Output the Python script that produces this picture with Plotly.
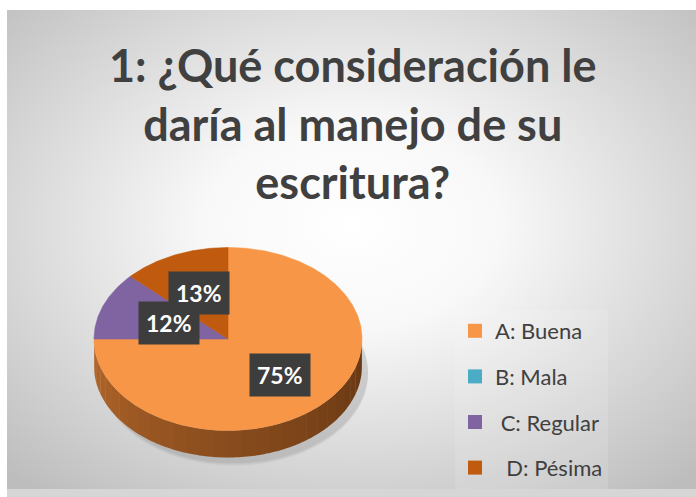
import base64
import numpy as np
import plotly.graph_objects as go

# ---------------- data ----------------
categories = ["A: Buena", "B: Mala", "C: Regular", "D: Pésima"]
legend_labels = ["A: Buena", "B: Mala", "\u00a0C: Regular", "\u00a0\u00a0D: Pésima"]
values = [75, 0, 12, 13]
slice_colors = ["#F79646", "#4BACC6", "#8064A2", "#BF5A0E"]
title_lines = ["1: ¿Qué consideración le", "daría al manejo de su", "escritura?"]

# ---------------- geometry (pixel axes) ----------------
W, H = 696, 497
CX, CY = 228, 339          # centre of top face
RX, RY = 134, 91.5         # ellipse radii (perspective)
DEPTH = 27                 # thickness of the 3D side
LABEL_R = [0.55, 0.55, 0.47, 0.55]

total = float(sum(values))
fracs = [v / total for v in values]
starts = np.cumsum([0] + fracs[:-1]) * 360.0
ends = np.cumsum(fracs) * 360.0


def pt(theta_deg, r=1.0):
    t = np.radians(theta_deg)
    return CX + r * RX * np.sin(t), CY - r * RY * np.cos(t)


def hex_to_rgb(h):
    h = h.lstrip("#")
    return tuple(int(h[i:i + 2], 16) for i in (0, 2, 4))


def mix(c1, c2, a):
    r1, r2 = hex_to_rgb(c1), hex_to_rgb(c2)
    return "rgb(%d,%d,%d)" % tuple(round(x + (y - x) * a) for x, y in zip(r1, r2))


fig = go.Figure()

# soft shadow under the pie
for k, op in enumerate([0.05, 0.05, 0.05, 0.06]):
    g = 14 - 3 * k
    th = np.linspace(0, 360, 120)
    xs, ys = pt(th)
    fig.add_trace(go.Scatter(
        x=list(xs + 6), y=list(ys + DEPTH + 4 + g * 0.3),
        fill="toself", mode="none", fillcolor="rgba(80,80,80,%.2f)" % op,
        line=dict(width=0), showlegend=False, hoverinfo="skip"))

# 3D side (visible front half: 90..270 deg)
side_light = {0: ("#B86A2C", "#663612")}
for i, (a, b) in enumerate(zip(starts, ends)):
    lo, hi = max(a, 90.0), min(b, 270.0)
    if hi <= lo:
        continue
    light, dark = side_light.get(i, (slice_colors[i], slice_colors[i]))
    nseg = 30
    edges = np.linspace(lo, hi, nseg + 1)
    for s in range(nseg):
        t = np.linspace(edges[s], edges[s + 1] + 0.3, 6)
        xs, ys = pt(t)
        px = list(xs) + list(xs[::-1])
        py = list(ys) + list((ys + DEPTH)[::-1])
        frac = (270 - (edges[s] + edges[s + 1]) / 2) / 180.0
        col = mix(light, dark, frac ** 0.8)
        fig.add_trace(go.Scatter(
            x=px, y=py, fill="toself", mode="none", fillcolor=col,
            line=dict(width=0), showlegend=False, hoverinfo="skip"))

# top face slices
for i, (a, b) in enumerate(zip(starts, ends)):
    if b - a <= 0:
        continue
    t = np.linspace(a, b, max(4, int((b - a) * 1.5)))
    xs, ys = pt(t)
    px = [CX] + list(xs) + [CX]
    py = [CY] + list(ys) + [CY]
    fig.add_trace(go.Scatter(
        x=px, y=py, fill="toself", mode="lines", fillcolor=slice_colors[i],
        line=dict(width=0.6, color=slice_colors[i]), showlegend=False,
        hoverinfo="text", text="%s: %d%%" % (categories[i], values[i])))

# legend entries
for i, lab in enumerate(legend_labels):
    fig.add_trace(go.Scatter(
        x=[None], y=[None], mode="markers", name=lab,
        marker=dict(symbol="square", size=14, color=slice_colors[i]),
        legendgroup="g%d" % i, showlegend=True))

# data labels
annotations = []
for i, (a, b) in enumerate(zip(starts, ends)):
    if values[i] == 0:
        continue
    mx, my = pt((a + b) / 2, LABEL_R[i])
    annotations.append(dict(
        x=mx, y=my, xref="x", yref="y", text="<b>%d%%</b>" % round(100 * fracs[i]),
        showarrow=False, font=dict(family="Lato", size=23, color="white"),
        bgcolor="#3D3D3D", borderpad=7, xanchor="center", yanchor="middle"))

# title
annotations.append(dict(
    x=352, y=123, xref="x", yref="y", text="<b>" + "<br>".join(title_lines) + "</b>",
    showarrow=False, font=dict(family="Lato", size=45, color="#404040"),
    xanchor="center", yanchor="middle", align="center"))

# background gradient (radial)
svg = """<svg xmlns='http://www.w3.org/2000/svg' width='689' height='479' viewBox='0 0 689 479' preserveAspectRatio='none'>
<defs><radialGradient id='g' cx='0.5' cy='0.45' r='0.72'>
<stop offset='0' stop-color='#ffffff'/><stop offset='0.3' stop-color='#f8f8f8'/>
<stop offset='1' stop-color='#bdbdbd'/></radialGradient></defs>
<rect width='689' height='479' fill='url(#g)'/></svg>"""
src = "data:image/svg+xml;base64," + base64.b64encode(svg.encode()).decode()

fig.update_layout(
    width=W, height=H,
    margin=dict(l=0, r=0, t=0, b=0),
    paper_bgcolor="white", plot_bgcolor="rgba(0,0,0,0)",
    xaxis=dict(range=[0, W], visible=False, fixedrange=True),
    yaxis=dict(range=[H, 0], visible=False, fixedrange=True),
    images=[dict(source=src, xref="paper", yref="paper", x=7 / W, y=1 - 10 / H,
                 sizex=1 - 7 / W, sizey=(489 - 10) / H, sizing="stretch",
                 xanchor="left", yanchor="top", layer="below")],
    shapes=[dict(type="rect", xref="x", yref="y", x0=7, x1=W, y0=489, y1=H,
                 fillcolor="#d6d6d6", line=dict(width=0), layer="below")],
    legend=dict(x=455 / W, y=1 - 310 / H, xanchor="left", yanchor="top",
                font=dict(family="Lato", size=22, color="#404040"),
                bgcolor="rgba(255,255,255,0.12)", tracegroupgap=14,
                itemwidth=30, traceorder="grouped"),
    annotations=annotations,
    showlegend=True,
)

fig.write_html("out.html", config={"displayModeBar": False},
               post_script="document.body.style.margin='0';document.body.style.padding='0';")
